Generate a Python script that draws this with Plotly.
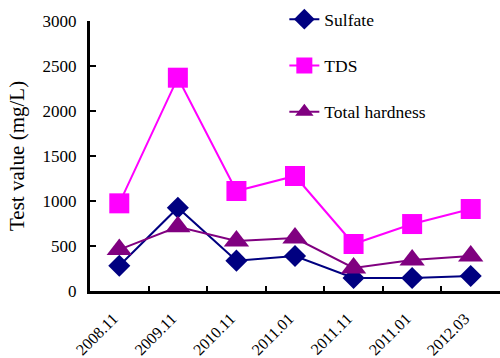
import plotly.graph_objects as go

categories = ["2008.11", "2009.11", "2010.11", "2011.01", "2011.11", "2011.01", "2012.03"]
sulfate = [280, 925, 337, 389, 144, 144, 167]
tds = [974, 2370, 1111, 1278, 522, 744, 911]
hardness = [460, 714, 556, 589, 256, 344, 389]
y_ticks = [0, 500, 1000, 1500, 2000, 2500, 3000]
y_title = "Test value (mg/L)"

x = list(range(len(categories)))

ff = "Times New Roman, Liberation Serif, serif"

fig = go.Figure()
fig.add_trace(go.Scatter(
    x=x, y=sulfate, name="Sulfate", mode="lines+markers", legendgroup="a",
    line=dict(color="#000080", width=2),
    marker=dict(symbol="diamond", size=17, color="#000080"), cliponaxis=False))
fig.add_trace(go.Scatter(
    x=x, y=tds, name="TDS", mode="lines+markers", legendgroup="b",
    line=dict(color="#FF00FF", width=2),
    marker=dict(symbol="square", size=20, color="#FF00FF"), cliponaxis=False))
fig.add_trace(go.Scatter(
    x=x, y=hardness, name="Total hardness", mode="lines+markers", legendgroup="c",
    line=dict(color="#800080", width=2),
    marker=dict(symbol="triangle-up", size=22, color="#800080"), cliponaxis=False))

fig.update_layout(
    width=500, height=358,
    margin=dict(l=90, r=0, t=21, b=67),
    paper_bgcolor="white", plot_bgcolor="white",
    font=dict(family=ff, size=16, color="black"),
    legend=dict(x=0.474, y=1.073, xanchor="left", yanchor="top",
                tracegroupgap=20.5, font=dict(family=ff, size=17.5, color="black"),
                bgcolor="rgba(0,0,0,0)"),
    xaxis=dict(
        range=[-0.5, 6.5], tickmode="array", tickvals=x, ticktext=categories,
        tickangle=-45, showgrid=False, zeroline=False, automargin=False,
        showline=True, linecolor="black", linewidth=3,
        ticks="", tickfont=dict(family=ff, size=16, color="black"),
        ticklabelstandoff=9, ticklabelshift=-6,
        minor=dict(tickmode="array", tickvals=[i + 0.5 for i in x[:-1]],
                   ticks="inside", ticklen=5, tickwidth=2, tickcolor="black"),
    ),
    yaxis=dict(
        range=[0, 3000], tickmode="array", tickvals=y_ticks,
        showgrid=False, zeroline=False, automargin=False,
        showline=True, linecolor="black", linewidth=3,
        ticks="inside", ticklen=6, tickwidth=2, tickcolor="black",
        ticklabelstandoff=7,
        tickfont=dict(family=ff, size=17, color="black"),
    ),
    annotations=[dict(
        text=y_title, xref="paper", yref="paper", x=0, y=0.5,
        xanchor="center", yanchor="middle", xshift=-73, textangle=-90,
        showarrow=False, font=dict(family=ff, size=21, color="black"))],
)

fig.write_html("out.html", post_script="document.body.style.margin='0';",
               config={"displayModeBar": False})
